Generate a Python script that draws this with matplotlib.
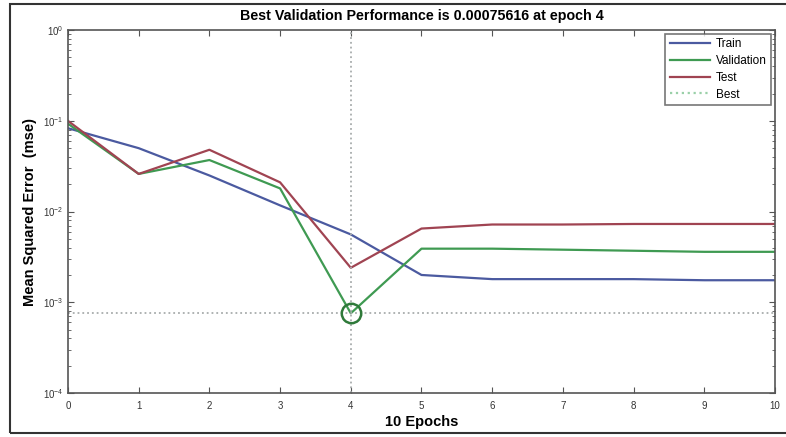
import numpy as np
import matplotlib.pyplot as plt
from matplotlib.patches import Rectangle

plt.rcParams['font.family'] = ['Liberation Sans', 'DejaVu Sans']

epochs = [0, 1, 2, 3, 4, 5, 6, 7, 8, 9, 10]
train = [0.083, 0.050, 0.025, 0.0117, 0.0056, 0.0020, 0.0018, 0.0018, 0.0018, 0.00175, 0.00175]
validation = [0.093, 0.026, 0.037, 0.018, 0.00075616, 0.0039, 0.0039, 0.0038, 0.0037, 0.0036, 0.0036]
test = [0.100, 0.026, 0.048, 0.021, 0.0024, 0.0065, 0.0072, 0.0072, 0.0073, 0.0073, 0.0073]
best_epoch = 4
best_perf = 0.00075616

fig = plt.figure(figsize=(7.86, 4.37), dpi=100)
ax = fig.add_axes([0.0865, 0.1007, 0.8995, 0.8303])

ax.plot(epochs, train, color='#4b5aa0', lw=1.6, label='Train')
ax.plot(epochs, validation, color='#3f9a52', lw=1.6, label='Validation')
ax.plot(epochs, test, color='#a04452', lw=1.6, label='Test')
ax.plot([best_epoch, best_epoch], [1e-4, 1], ':', color='#a8acac', lw=1.3)
ax.plot([0, 10], [best_perf, best_perf], ':', color='#a8acac', lw=1.3)
ax.plot([], [], ':', color='#9ad0a8', lw=1.6, label='Best')
ax.plot(best_epoch, best_perf, 'o', ms=14, mfc='none', mec='#2f7a3a', mew=1.8)

ax.set_yscale('log')
ax.set_xlim(0, 10)
ax.set_ylim(1e-4, 1)
ax.set_xticks(epochs)
ax.tick_params(axis='both', which='both', direction='in', top=True, right=True,
               labelsize=7, colors='#555555', labelcolor='#333333')
ax.tick_params(which='major', length=4)
ax.tick_params(axis='x', pad=6)
ax.tick_params(which='minor', length=2)
for s in ax.spines.values():
    s.set_color('#555555')
    s.set_linewidth(1.2)

ax.set_title('Best Validation Performance is 0.00075616 at epoch 4',
             fontsize=10.3, fontweight='bold', pad=7)
ax.set_xlabel('10 Epochs', fontsize=10.5, fontweight='bold', labelpad=3)
ax.set_ylabel('Mean Squared Error  (mse)', fontsize=10.5, fontweight='bold', labelpad=4)

leg = ax.legend(loc='upper right', fontsize=8.5, frameon=True, fancybox=False,
                handlelength=3.4, borderaxespad=0.3, labelspacing=0.4,
                handletextpad=0.5)
leg.get_frame().set_edgecolor('#555555')
leg.get_frame().set_linewidth(1.2)

fig.patches.append(Rectangle((10 / 786, 4 / 437), 790 / 786, 429 / 437,
                             transform=fig.transFigure, fill=False,
                             edgecolor='#333333', lw=1.5))

plt.savefig('out.png', dpi=100)
